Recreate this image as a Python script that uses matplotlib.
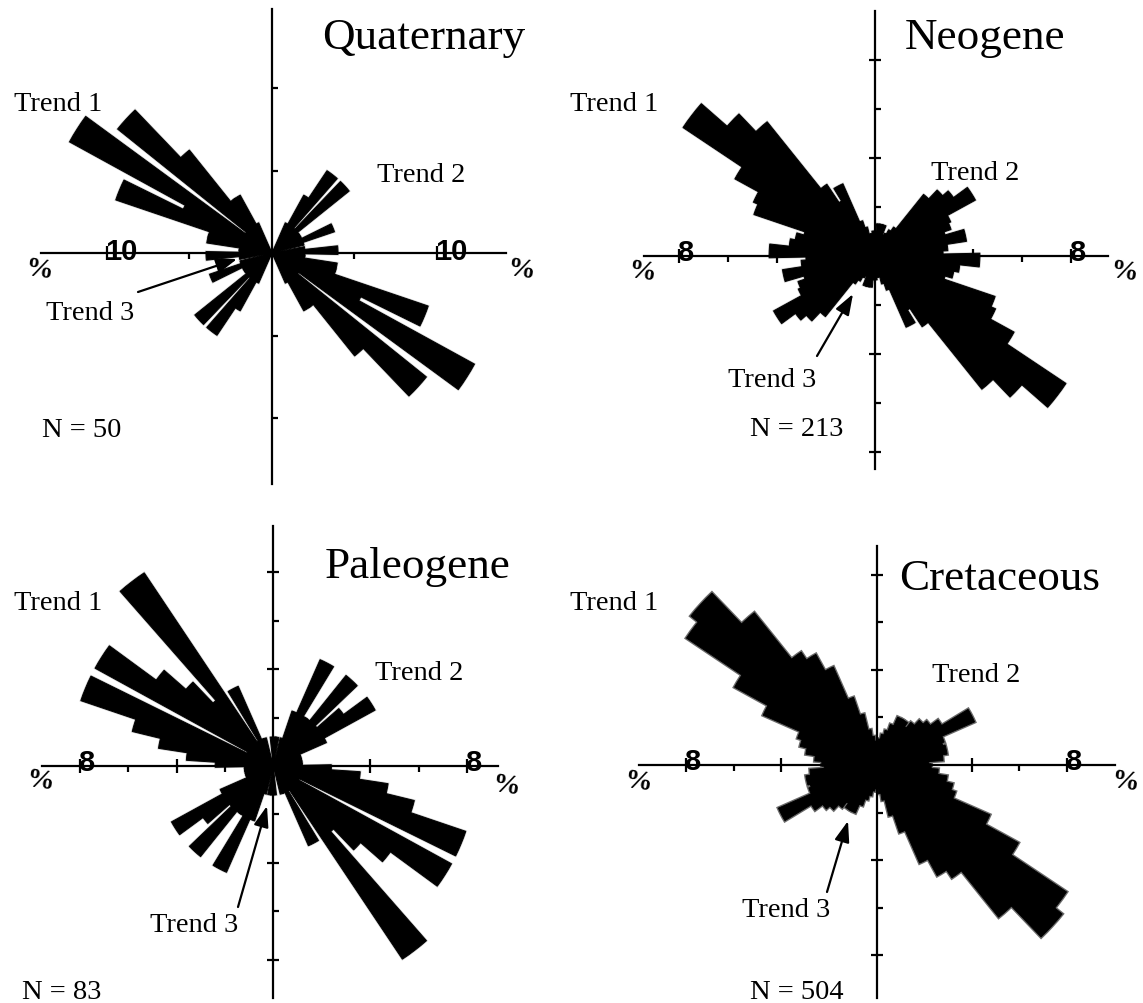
import matplotlib
matplotlib.use("Agg")
import matplotlib.pyplot as plt
from matplotlib.patches import Wedge

# ---------------- data ----------------
# bin centre azimuths (degrees clockwise from north), 5-degree bins, axial data (mirrored +180)
bin_centers = [2.5 + 5 * i for i in range(36)]

# percentage of measurements in each bin
quaternary = [0, 0, 0, 0, 0, 2, 4, 6, 2, 6, 2, 2,
              2, 4, 2, 0, 2, 4, 2, 2, 4, 4, 10, 6,
              14, 2, 12, 8, 4, 4, 2, 0, 0, 0, 0, 0]
neogene = [1.0, 1.3, 1.3, 1.3, 0.9, 1.0, 1.2, 1.4, 3.2, 3.7, 4.0, 4.7,
           3.4, 3.3, 3.0, 3.8, 3.0, 2.8, 4.3, 3.5, 3.3, 3.0, 5.2, 5.4,
           6.5, 9.4, 8.0, 7.0, 3.5, 2.6, 3.2, 1.5, 1.2, 0.9, 0.9, 1.0]
paleogene = [1.2, 1.2, 0, 1.2, 2.4, 4.8, 2.4, 2.4, 4.8, 2.4, 3.6, 4.8,
             2.4, 1.2, 1.2, 1.2, 1.2, 1.2, 2.4, 3.6, 4.8, 6.0, 8.4, 1.2,
             8.4, 6.0, 4.8, 3.6, 9.6, 1.2, 3.6, 1.2, 1.2, 0, 0, 1.2]
cretaceous = [1.0, 1.1, 1.3, 1.5, 1.8, 2.2, 2.2, 2.0, 2.3, 2.6, 2.8, 3.2,
              4.5, 3.0, 2.9, 3.0, 2.8, 2.2, 2.3, 2.6, 3.0, 3.3, 3.5, 5.2,
              6.8, 9.6, 10.0, 8.2, 5.7, 5.3, 4.5, 3.0, 2.2, 1.5, 1.2, 1.0]

titles = ["Quaternary", "Neogene", "Paleogene", "Cretaceous"]
n_labels = ["N = 50", "N = 213", "N = 83", "N = 504"]
scale_values = [10, 8, 8, 8]
scale_labels = ["10", "8", "8", "8"]
series = [quaternary, neogene, paleogene, cretaceous]

# ---------------- layout (figure pixels, y measured from top) ----------------
W, H, DPI = 1143, 1004, 100
plt.rcParams["font.family"] = ["Liberation Serif", "DejaVu Serif"]

panels = [
    dict(box=(0, 0, 571, 502), c=(272.0, 254.0), s=16.5, xb=(-13.97, 14.2), yb=(-14.0, 14.8),
         xmaj=[-10, 10], xmin=[-5, 5], ymaj=[], ymin=[-10, -5, 5, 10],
         title=(322, 49), t1=(14, 111), t2=(377, 182), t3=(46, 320), n=(42, 437),
         arrow=((138, 293), (237, 260)), pct=((39, 270), (521, 270)),
         halo="#cfcfcf", halo_lw=1.6),
    dict(box=(571, 0, 1143, 502), c=(874.5, 256.5), s=24.5, xb=(-9.4, 9.55), yb=(-8.7, 10.0),
         xmaj=[-8, -4, 4, 8], xmin=[-6, -2, 2, 6], ymaj=[-8, -4, 4, 8], ymin=[-6, -2, 2, 6],
         title=(905, 49), t1=(570, 111), t2=(931, 180), t3=(728, 387), n=(750, 436),
         arrow=((817, 357), (853, 295)), pct=((642, 272), (1124, 272)),
         halo="#cfcfcf", halo_lw=1.6),
    dict(box=(0, 502, 571, 1004), c=(273.3, 767.0), s=24.2, xb=(-9.57, 9.3), yb=(-9.6, 9.9),
         xmaj=[-8, -4, 4, 8], xmin=[-6, -2, 2, 6], ymaj=[-8, -4, 4, 8], ymin=[-6, -2, 2, 6],
         title=(325, 578), t1=(14, 610), t2=(375, 680), t3=(150, 932), n=(22, 999),
         arrow=((238, 908), (267, 807)), pct=((40, 781), (506, 786)),
         halo="#cfcfcf", halo_lw=1.6),
    dict(box=(571, 502, 1143, 1004), c=(876.5, 766.0), s=23.8, xb=(-10.0, 10.0), yb=(-9.8, 9.2),
         xmaj=[-8, -4, 4, 8], xmin=[-6, -2, 2, 6], ymaj=[-8, -4, 4, 8], ymin=[-6, -2, 2, 6],
         title=(899, 590), t1=(570, 610), t2=(932, 682), t3=(742, 917), n=(750, 999),
         arrow=((827, 893), (848, 822)), pct=((638, 782), (1125, 782)),
         halo="#6a6a6a", halo_lw=2.6),
]

HALF_WIDTH = 3.75  # half angular width of each petal (degrees)

fig = plt.figure(figsize=(W / DPI, H / DPI), dpi=DPI)
fig.patch.set_facecolor("white")


def fx(x):
    return x / W


def fy(y):
    return 1 - y / H


for p, vals, title, nlab, sv, slab in zip(panels, series, titles, n_labels, scale_values, scale_labels):
    x0, y0, x1, y1 = p["box"]
    cx, cy = p["c"]
    s = p["s"]
    ax = fig.add_axes([x0 / W, 1 - y1 / H, (x1 - x0) / W, (y1 - y0) / H])
    ax.set_xlim((x0 - cx) / s, (x1 - cx) / s)
    ax.set_ylim((cy - y1) / s, (cy - y0) / s)
    ax.patch.set_alpha(0)

    # petals: halo pass then black pass
    for colour, lw, z in ((p["halo"], p["halo_lw"], 1), ("black", 0.7, 2)):
        for az, v in zip(bin_centers, vals):
            if v <= 0:
                continue
            for a in (az, az + 180):
                phi = 90 - a
                w = Wedge((0, 0), v, phi - HALF_WIDTH, phi + HALF_WIDTH,
                          facecolor=colour, edgecolor=colour, linewidth=lw,
                          joinstyle="miter", zorder=z)
                ax.add_patch(w)

    # cross-hair axes
    for side in ("top", "right"):
        ax.spines[side].set_visible(False)
    ax.spines["left"].set_position(("data", 0))
    ax.spines["bottom"].set_position(("data", 0))
    ax.spines["bottom"].set_bounds(*p["xb"])
    ax.spines["left"].set_bounds(*p["yb"])
    for side in ("left", "bottom"):
        ax.spines[side].set_linewidth(1.6)
        ax.spines[side].set_zorder(3)
    ax.set_xticks(p["xmaj"])
    ax.set_xticks(p["xmin"], minor=True)
    ax.set_yticks(p["ymaj"])
    ax.set_yticks(p["ymin"], minor=True)
    ax.set_xticklabels([])
    ax.set_yticklabels([])
    ax.tick_params(axis="x", which="major", direction="inout", length=10, width=1.6)
    ax.tick_params(axis="x", which="minor", direction="out", length=4.5, width=1.6)
    ax.tick_params(axis="y", which="major", direction="inout", length=9, width=1.6)
    ax.tick_params(axis="y", which="minor", direction="in", length=4.5, width=1.6)

    # scale labels on the axis
    for v in (-sv, sv):
        ax.text(v - 1.5 / s, 0.15, slab, ha="left", va="center", fontsize=21,
                fontweight="bold", family=["Liberation Sans", "DejaVu Sans"], zorder=4)

    # texts
    fig.text(fx(p["title"][0]), fy(p["title"][1]), title, fontsize=32.5, ha="left", va="baseline")
    fig.text(fx(p["t1"][0]), fy(p["t1"][1]), "Trend 1", fontsize=20.5, ha="left", va="baseline")
    fig.text(fx(p["t2"][0]), fy(p["t2"][1]), "Trend 2", fontsize=20.5, ha="left", va="baseline")
    fig.text(fx(p["t3"][0]), fy(p["t3"][1]), "Trend 3", fontsize=20.5, ha="left", va="baseline")
    fig.text(fx(p["n"][0]), fy(p["n"][1]), nlab, fontsize=20.5, ha="left", va="baseline")
    for (px, py) in p["pct"]:
        fig.text(fx(px), fy(py), "%", fontsize=20, fontweight="bold", ha="center", va="center",
                 rotation=-8)

    (ax0, ay0), (ax1, ay1) = p["arrow"]
    ax.annotate("", xy=(ax1, H - ay1), xycoords="figure pixels",
                xytext=(ax0, H - ay0), textcoords="figure pixels",
                arrowprops=dict(arrowstyle="-|>,head_length=0.7,head_width=0.25",
                                lw=1.6, color="black", shrinkA=0, shrinkB=0,
                                mutation_scale=18),
                zorder=5, annotation_clip=False)

fig.savefig("out.png", dpi=DPI, facecolor="white")
